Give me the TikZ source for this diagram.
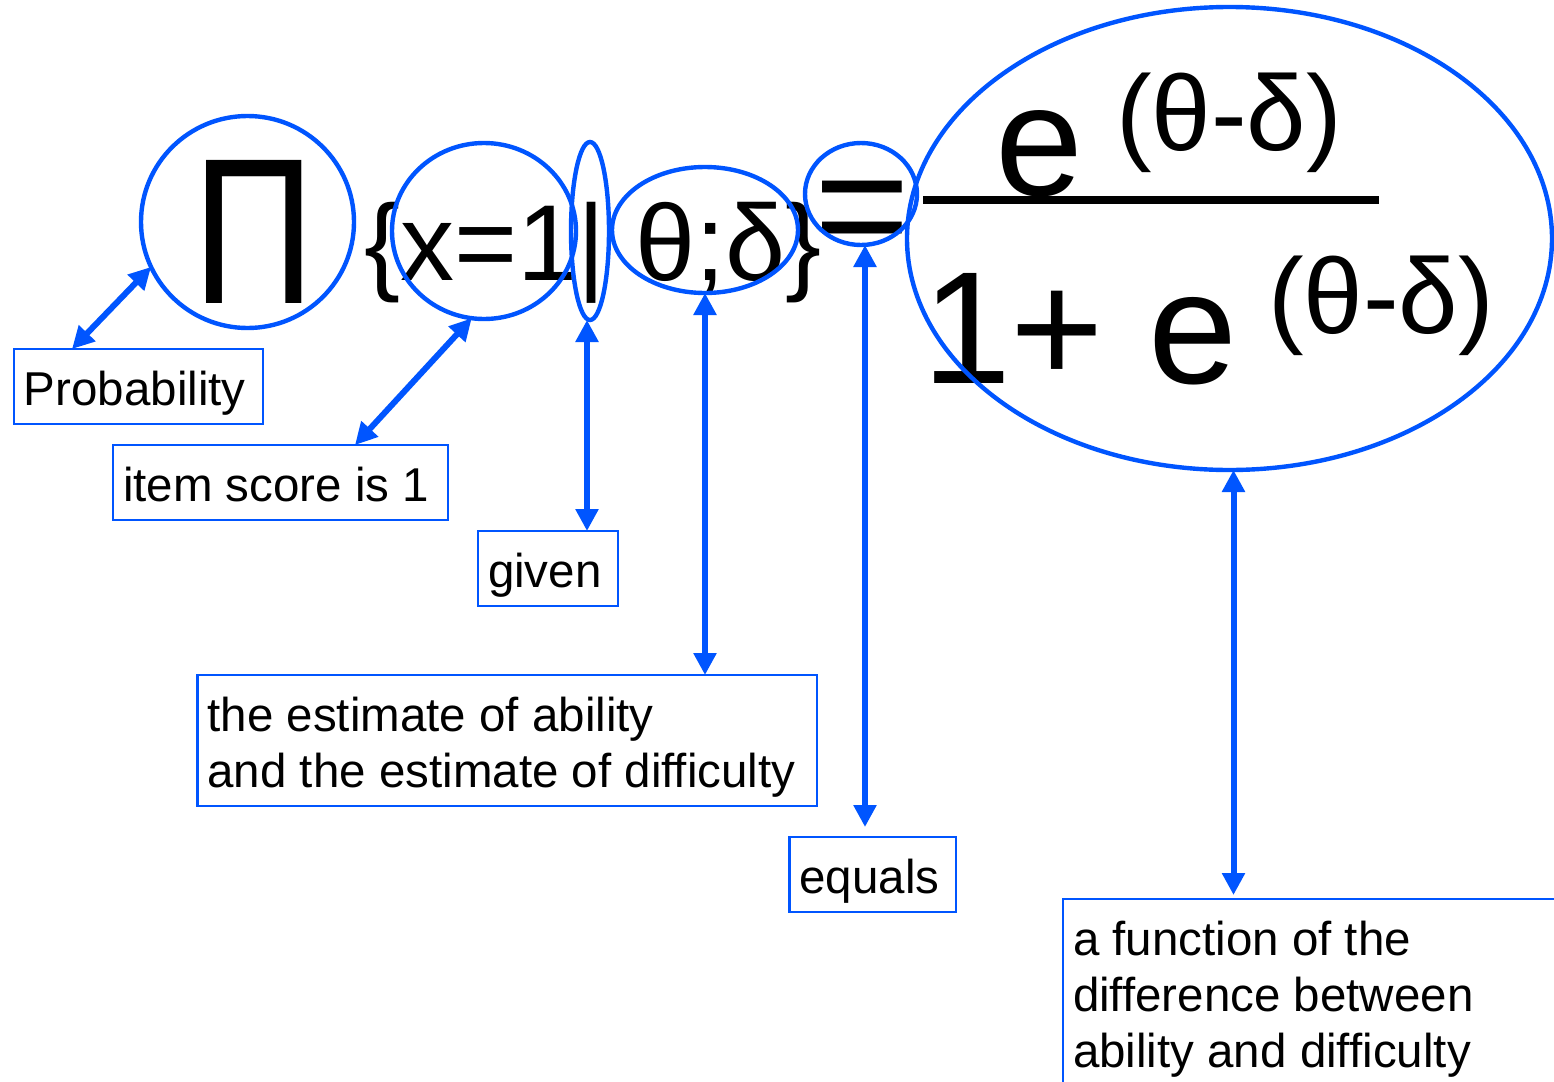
\documentclass[tikz,border=0pt]{standalone}
\usepackage{fontspec}
\setmainfont{Liberation Sans}
\usetikzlibrary{shapes.geometric,arrows.meta,calc}
\definecolor{lblue}{RGB}{0,85,255}
\begin{document}
\begin{tikzpicture}[x=0.5pt,y=-0.5pt,
  oval/.style={ellipse,draw=lblue,line width=2.2pt,inner sep=0pt,outer sep=0pt},
  lbl/.style={draw=lblue,line width=1.3pt,anchor=north west,inner xsep=5pt,inner ysep=0pt,outer sep=0pt,text height=28pt,font=\fontsize{23.75pt}{28pt}\selectfont},
  dbl/.style={lblue,line width=3pt,{Triangle[length=11pt,width=11pt]}-{Triangle[length=11pt,width=11pt]}},
  sym/.style={inner sep=0pt,outer sep=0pt,anchor=base west}]
\fill[white] (0,0) rectangle (1554,1082);
\useasboundingbox (0,0) rectangle (1554,1082);

% formula
\node[sym,anchor=base,font=\fontsize{104pt}{110pt}\selectfont] (piGlyph) at (254,303) {\scalebox{0.82}[1]{Π}};
\node[sym,font=\fontsize{54pt}{60pt}\selectfont] (cond) at (364,280) {\{x=1| θ;δ\}};
\node[sym,font=\fontsize{82pt}{90pt}\selectfont] (eqsign) at (814.5,261) {=};
\coordinate (fracL) at (923,200);
\coordinate (fracR) at (1379,200);
\draw[line width=4pt] (fracL) -- (fracR);
\node[sym,font=\fontsize{79pt}{85pt}\selectfont] (enum) at (995,195) {e};
\node[sym,font=\fontsize{53.5pt}{60pt}\selectfont] (snum) at (1116,150) {(θ-δ)};
\node[sym,font=\fontsize{80pt}{86pt}\selectfont] (den) at (922,383) {1+ e};
\node[sym,font=\fontsize{53.5pt}{60pt}\selectfont] (sden) at (1268,333) {(θ-δ)};

% ellipses
\node[oval,minimum width=106.5pt,minimum height=106pt] (pi) at (247.5,222) {};
\node[oval,minimum width=92pt,minimum height=88pt] (x1) at (484,231) {};
\node[oval,minimum width=19pt,minimum height=89pt] (bar) at (590,231) {};
\node[oval,minimum width=93pt,minimum height=63pt] (th) at (705,230) {};
\node[oval,minimum width=56pt,minimum height=51pt] (eq) at (861,194) {};
\node[oval,minimum width=322.5pt,minimum height=231.5pt] (big) at (1229.5,238.5) {};

% label boxes
\node[lbl,text depth=9.5pt] (prob) at (14,349) {\parbox[t]{114.5pt}{Probability}};
\node[lbl,text depth=9.5pt] (item) at (113,445) {\parbox[t]{157.5pt}{item score is 1}};
\node[lbl,text depth=9.5pt] (given) at (478,531) {\parbox[t]{60pt}{given}};
\node[lbl,text depth=37.5pt] (est) at (197.5,675) {\parbox[t]{299.75pt}{the estimate of ability\\and the estimate of difficulty}};
\node[lbl,text depth=9.5pt] (equals) at (789.5,837) {\parbox[t]{73.25pt}{equals}};
\node[lbl,text depth=120pt] (func) at (1063,899) {\parbox[t]{270pt}{a function of the\\difference between\\ability and difficulty}};

% connectors
\draw[dbl] ([xshift=29pt]prob.north west) -- (pi.205);
\draw[dbl] ([xshift=121pt]item.north west) -- (x1.262);
\coordinate (barA) at ([xshift=-1.5pt]bar.south);
\draw[dbl] (barA) -- (barA |- given.north);
\draw[dbl] (th.south) -- (th.south |- est.north);
\coordinate (eqA) at ([xshift=2pt]eq.south);
\draw[dbl] (eqA) -- ($(eqA |- equals.north)+(0,-10)$);
\coordinate (bigA) at ([xshift=2pt]big.south);
\draw[dbl] (bigA) -- ($(bigA |- func.north)+(0,-4)$);
\end{tikzpicture}
\end{document}
